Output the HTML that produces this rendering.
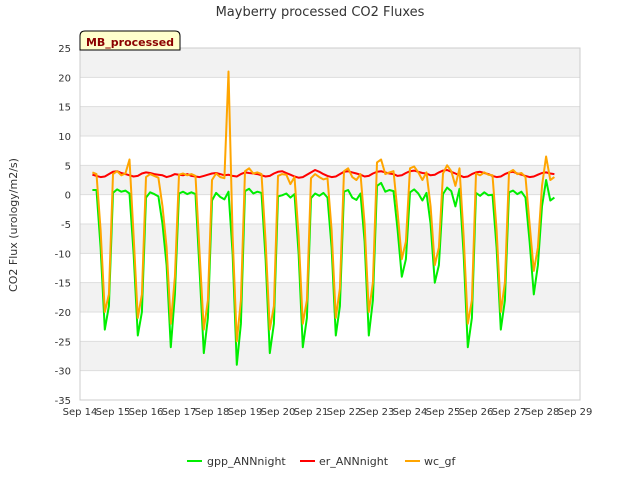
<!DOCTYPE html>
<html><head><meta charset="utf-8">
<style>
body{margin:0;background:#fff;font-family:"Liberation Sans","DejaVu Sans",sans-serif;}
svg text{font-family:"DejaVu Sans","Liberation Sans",sans-serif;}
</style></head>
<body>
<svg id="chart" width="640" height="480" xmlns="http://www.w3.org/2000/svg">
<text x="320" y="16" text-anchor="middle" font-size="13" fill="#333">Mayberry processed CO2 Fluxes</text>
<g id="bands"></g>
<g id="grid"></g>
<g id="yticks"></g>
<g id="xticks"></g>
<g id="series"></g>
<text transform="translate(17,225) rotate(-90)" text-anchor="middle" font-size="11" fill="#333">CO2 Flux (urology/m2/s)</text>
<g>
<path d="M80,50 L80,36 Q80,31 85,31 L175,31 Q180,31 180,36 L180,50 Z" fill="#ffffcc" stroke="#000" stroke-width="1"/>
<text x="130" y="46" text-anchor="middle" font-size="11" font-weight="bold" fill="#8b0000">MB_processed</text>
</g>
<g>
<g><line x1="187" y1="461" x2="202" y2="461" stroke="#00ee00" stroke-width="2"/><text x="207" y="465" font-size="11" fill="#333">gpp_ANNnight</text></g>
<g><line x1="300" y1="461" x2="315" y2="461" stroke="#ff0000" stroke-width="2"/><text x="319" y="465" font-size="11" fill="#333">er_ANNnight</text></g>
<g><line x1="405" y1="461" x2="420" y2="461" stroke="#ffa500" stroke-width="2"/><text x="424" y="465" font-size="11" fill="#333">wc_gf</text></g>
</g>
</svg>
<script>
const xTickLabels=["Sep 14","Sep 15","Sep 16","Sep 17","Sep 18","Sep 19","Sep 20","Sep 21","Sep 22","Sep 23","Sep 24","Sep 25","Sep 26","Sep 27","Sep 28","Sep 29"];
const yTickValues=[25,20,15,10,5,0,-5,-10,-15,-20,-25,-30,-35];
const startDay=14.375;
const stepDay=0.125;
const gpp=[0.8,
0.8,-9,-23,-19,0.3,0.9,0.5,0.7,
0.2,-10,-24,-20,-0.5,0.4,0.1,-0.3,
-5,-12,-26,-17,0.2,0.5,0.1,0.4,
0.1,-13,-27,-21,-1,0.3,-0.4,-0.8,
0.5,-10,-29,-22,0.6,1.0,0.2,0.5,
0.3,-11,-27,-22,-0.3,-0.1,0.2,-0.5,
0.1,-10,-26,-21,-0.6,0.2,-0.2,0.3,
-0.5,-9,-24,-19,0.5,0.8,-0.5,-0.9,
0.2,-8,-24,-18,1.5,2.0,0.5,0.8,
0.6,-6,-14,-11,0.4,0.9,0.2,-1,
0.3,-5,-15,-12,0.1,1.2,0.6,-2,
1.0,-10,-26,-21,0.3,-0.2,0.4,-0.1,
0.0,-9,-23,-18,0.4,0.7,0.1,0.5,
-0.5,-8,-17,-12,-2,2.5,-1,-0.5];
const er=[3.4,
3.2,3.0,3.1,3.5,3.9,4.0,3.7,3.5,
3.3,3.1,3.2,3.6,3.8,3.7,3.5,3.4,
3.3,3.0,3.2,3.5,3.4,3.3,3.5,3.2,
3.1,3.0,3.2,3.4,3.6,3.7,3.5,3.3,
3.4,3.2,3.1,3.5,3.8,3.7,3.6,3.5,
3.3,3.1,3.2,3.6,3.9,4.0,3.7,3.4,
3.1,2.9,3.0,3.4,3.8,4.2,3.9,3.5,
3.2,3.0,3.1,3.5,3.9,4.0,3.8,3.6,
3.4,3.1,3.2,3.6,3.9,4.0,3.8,3.6,
3.5,3.2,3.3,3.7,4.0,4.1,3.9,3.7,
3.6,3.3,3.4,3.8,4.1,4.2,3.9,3.6,
3.3,3.0,3.1,3.5,3.8,3.9,3.7,3.5,
3.2,3.0,3.1,3.5,3.8,3.9,3.6,3.4,
3.2,3.0,3.1,3.4,3.7,3.8,3.6,3.5];
const wc=[3.8,
3.5,-6,-20,-17,3.5,4.0,3.3,3.6,
6.0,-7,-21,-17,3.0,3.5,3.2,2.9,
-2,-9,-22,-14,3.4,3.6,3.3,3.5,
3.2,-10,-23,-18,2.5,3.6,3.0,2.8,
21,-7,-25,-18,4.0,4.5,3.6,3.8,
3.5,-8,-23,-19,3.2,3.5,3.4,1.8,
3.0,-7,-22,-18,2.8,3.5,3.0,2.6,
2.8,-6,-21,-16,4.0,4.5,3.0,2.5,
3.5,-5,-20,-15,5.5,6.0,3.5,3.8,
4.0,-3,-11,-8,4.5,4.8,3.8,2.5,
3.8,-2,-12,-9,3.6,5.0,4.0,1.5,
4.5,-7,-22,-18,3.6,3.3,3.8,3.4,
3.3,-6,-20,-15,3.8,4.2,3.5,3.7,
3.0,-5,-13,-9,1.5,6.5,2.5,3.0];
const X0=80,XR=580,Y0=48,Y1=400,pxDay=33;
const xs=d=>X0+(d-14)*pxDay;
const ys=v=>Y0+(25-v)*(Y1-Y0)/60;
const NS="http://www.w3.org/2000/svg";
function mk(tag,attrs,parent){const e=document.createElementNS(NS,tag);for(const k in attrs)e.setAttribute(k,attrs[k]);document.getElementById(parent).appendChild(e);return e;}
for(let v=25;v>-35;v-=10){
  const b=mk('rect',{x:X0,y:ys(v),width:XR-X0,height:ys(v-5)-ys(v),fill:'#f2f2f2'},'bands');
  
  
}
yTickValues.forEach(v=>{
  const l=mk('line',{x1:X0,x2:XR,y1:ys(v),y2:ys(v),stroke:'#dddddd','stroke-width':1},'grid');
  
  
  const t=mk('text',{x:X0-9,y:ys(v)+4,'text-anchor':'end','font-size':10,fill:'#333'},'yticks');
  
  
  t.textContent=v;
});
const fr=mk('rect',{x:X0,y:Y0,width:XR-X0,height:Y1-Y0,fill:'none',stroke:'#cccccc'},'grid');


xTickLabels.forEach((s,i)=>{
  const t=mk('text',{x:xs(14+i),y:Y1+15,'text-anchor':'middle','font-size':10,fill:'#333'},'xticks');
  
  
  t.textContent=s;
});
function draw(arr,color,name){
  const pts=arr.map((v,i)=>xs(startDay+i*stepDay).toFixed(1)+','+ys(v).toFixed(1)).join(' ');
  const p=mk('polyline',{points:pts,fill:'none',stroke:color,'stroke-width':2,'stroke-linejoin':'round'},'series');
  
  
}
draw(gpp,'#00ee00','gpp-line');
draw(er,'#ff0000','er-line');
draw(wc,'#ffa500','wc-line');
</script>
</body></html>
